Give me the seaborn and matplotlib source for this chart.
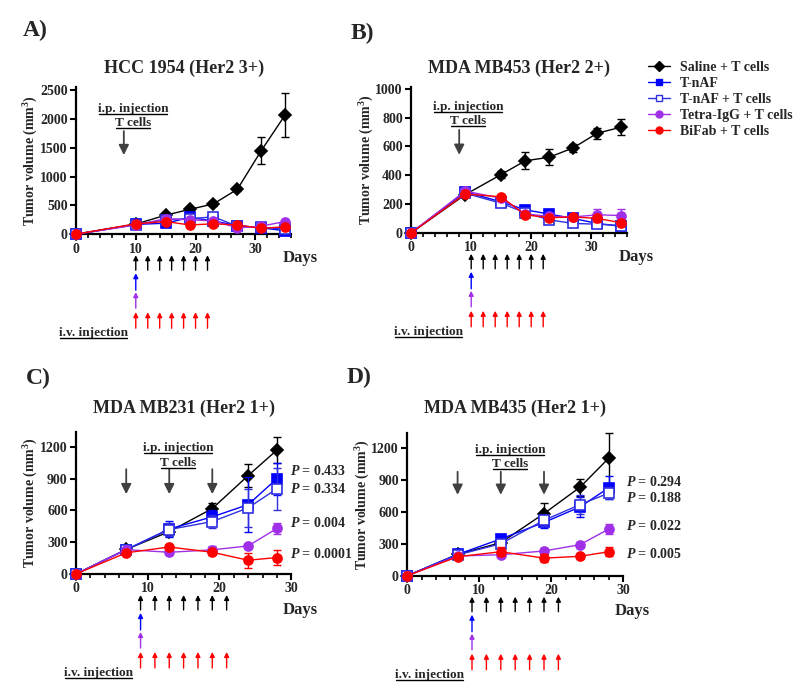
import numpy as np
import pandas as pd
import matplotlib
matplotlib.use('Agg')
import matplotlib.pyplot as plt
import matplotlib.transforms as mtransforms
from matplotlib.lines import Line2D
from matplotlib.ticker import MultipleLocator
import seaborn as sns

# groups / styles
groups = ['Saline + T cells', 'T-nAF', 'T-nAF + T cells', 'Tetra-IgG + T cells', 'BiFab + T cells']
colors = ['#000000', '#0000ff', '#3030e0', '#a030e8', '#ff0000']
markers = ['D', 's', 's', 'o', 'o']
filled = [True, True, False, True, True]

# Panel A: HCC 1954
a_days = [0, 10, 15, 19, 23, 27, 31, 35]
a_vals = [[0, 175, 330, 430, 525, 780, 1450, 2070],
          [0, 170, 190, 290, 230, 150, 110, 60],
          [0, 165, 250, 270, 300, 140, 120, 90],
          [0, 160, 270, 250, 230, 110, 140, 220],
          [0, 180, 220, 160, 180, 160, 100, 130]]
a_errs = [[0, 20, 40, 30, 30, 30, 240, 380],
          [0, 20, 30, 40, 40, 30, 20, 20],
          [0, 20, 30, 40, 40, 30, 20, 20],
          [0, 20, 30, 30, 30, 30, 20, 30],
          [0, 20, 30, 30, 30, 30, 20, 20]]

# Panel B: MDA MB453
b_days = [0, 9, 15, 19, 23, 27, 31, 35]
b_vals = [[0, 265, 405, 500, 525, 590, 692, 734],
          [0, 285, 215, 160, 130, 100, 65, 45],
          [0, 275, 205, 140, 90, 65, 60, 50],
          [0, 290, 240, 130, 115, 110, 125, 120],
          [0, 270, 250, 125, 105, 110, 100, 70]]
b_errs = [[0, 15, 27, 58, 55, 30, 37, 57],
          [0, 15, 20, 15, 15, 15, 25, 15],
          [0, 15, 20, 15, 15, 20, 20, 15],
          [0, 15, 20, 15, 15, 20, 40, 45],
          [0, 15, 15, 15, 20, 20, 25, 20]]

# Panel C: MDA MB231
c_days = [0, 7, 13, 19, 24, 28]
c_vals = [[0, 232, 400, 618, 930, 1170],
          [0, 230, 425, 540, 655, 900],
          [0, 230, 420, 495, 625, 805],
          [0, 230, 205, 228, 265, 430],
          [0, 200, 255, 205, 130, 155]]
c_errs = [[0, 15, 40, 50, 110, 120],
          [0, 15, 75, 60, 260, 150],
          [0, 15, 60, 65, 180, 200],
          [0, 15, 15, 40, 20, 50],
          [0, 15, 20, 25, 70, 70]]
c_pvals = ['0.433', '0.334', '0.004', '0.0001']

# Panel D: MDA MB435
d_days = [0, 7, 13, 19, 24, 28]
d_vals = [[0, 200, 310, 583, 830, 1103],
          [0, 200, 345, 500, 645, 825],
          [0, 195, 300, 520, 667, 775],
          [0, 185, 197, 232, 291, 438],
          [0, 178, 225, 165, 182, 225]]
d_errs = [[0, 15, 30, 100, 80, 240],
          [0, 15, 30, 50, 90, 110],
          [0, 15, 30, 50, 90, 60],
          [0, 15, 20, 25, 25, 50],
          [0, 15, 40, 35, 20, 40]]
d_pvals = ['0.294', '0.188', '0.022', '0.005']

# treatment schedules (days)
ab_ip_days = [8]
ab_iv_days = [10, 12, 14, 16, 18, 20, 22]
cd_ip_days = [7, 13, 19]
cd_iv_days = [9, 11, 13, 15, 17, 19, 21]

sns.set_theme(style='ticks')
plt.rcParams['font.family'] = ['Liberation Serif', 'DejaVu Serif']
plt.rcParams['font.weight'] = 'bold'
plt.rcParams['mathtext.fontset'] = 'custom'
plt.rcParams['mathtext.rm'] = 'Liberation Serif:bold'
plt.rcParams['mathtext.bf'] = 'Liberation Serif:bold'
plt.rcParams['mathtext.it'] = 'Liberation Serif:italic:bold'

fig = plt.figure(figsize=(8, 6.97), dpi=100)

panels = [
    dict(letter='A)', title='HCC 1954 (Her2 3+)', days=a_days, vals=a_vals, errs=a_errs,
         rect=[0.095, 0.664, 0.269, 0.211], ylim=2550, yticks=np.arange(0, 2501, 500), xmax=36,
         ip=ab_ip_days, iv=ab_iv_days, ip_text=(9.5, 2170, 1927), ip_arrow=(1788, 1372),
         pvals=None, letter_xy=(0.044, 0.957), title_pad=10, days_dy=24),
    dict(letter='B)', title='MDA MB453 (Her2 2+)', days=b_days, vals=b_vals, errs=b_errs,
         rect=[0.514, 0.666, 0.27, 0.2096], ylim=1015, yticks=np.arange(0, 1001, 200), xmax=36,
         ip=ab_ip_days, iv=ab_iv_days, ip_text=(9.5, 875, 778), ip_arrow=(715, 542),
         pvals=None, letter_xy=(0.453, 0.952), title_pad=10, days_dy=24),
    dict(letter='C)', title='MDA MB231 (Her2 1+)', days=c_days, vals=c_vals, errs=c_errs,
         rect=[0.095, 0.1765, 0.269, 0.2035], ylim=1340, yticks=np.arange(0, 1201, 300), xmax=30,
         ip=cd_ip_days, iv=cd_iv_days, ip_text=(14.2, 1188, 1046), ip_arrow=(990, 754),
         pvals=c_pvals, p_x=29.8, p_y=[971, 801, 481, 188],
         letter_xy=(0.048, 0.457), title_pad=14, days_dy=36),
    dict(letter='D)', title='MDA MB435 (Her2 1+)', days=d_days, vals=d_vals, errs=d_errs,
         rect=[0.509, 0.174, 0.27, 0.205], ylim=1340, yticks=np.arange(0, 1201, 300), xmax=30,
         ip=cd_ip_days, iv=cd_iv_days, ip_text=(14.3, 1181, 1050), ip_arrow=(975, 759),
         pvals=d_pvals, p_x=30.4, p_y=[881, 731, 469, 206],
         letter_xy=(0.449, 0.459), title_pad=14, days_dy=35),
]


def below(ax, dy, dx=0):
    return ax.get_xaxis_transform() + mtransforms.ScaledTranslation(dx / fig.dpi, -dy / fig.dpi, fig.dpi_scale_trans)


underlined = []

for p in panels:
    ax = fig.add_axes(p['rect'])
    for g in range(len(groups)):
        c = colors[g]
        sns.lineplot(x=p['days'], y=p['vals'][g], color=c, marker=markers[g],
                     markersize=6.5,
                     markeredgecolor=c, markeredgewidth=1.2,
                     markerfacecolor=c if filled[g] else 'white',
                     linewidth=1, errorbar=None, ax=ax, clip_on=False, zorder=3 + g)
        e = np.array(p['errs'][g])
        d = np.array(p['days'])
        v = np.array(p['vals'][g])
        m = e > 0
        ax.errorbar(d[m], v[m], yerr=e[m], fmt='none', ecolor=c, elinewidth=1,
                    capsize=3, capthick=1, clip_on=False, zorder=2 + g)

    ax.set_xlim(0, p['xmax'])
    ax.set_ylim(0, p['ylim'])
    ax.set_xticks([0, 10, 20, 30])
    ax.xaxis.set_minor_locator(MultipleLocator(2))
    ax.set_yticks(p['yticks'])
    ax.set_xlabel('')
    ax.set_ylabel('Tumor volume (mm$^{3}$)', fontsize=10, fontweight='bold')
    ax.yaxis.set_label_coords(-0.165, 0.5)
    ax.tick_params(axis='both', which='major', direction='out', length=4, width=1.5,
                   labelsize=10, pad=2, color='black')
    ax.tick_params(axis='x', which='minor', direction='out', length=3, width=1.2, color='black')
    for lab in ax.get_xticklabels() + ax.get_yticklabels():
        lab.set_fontweight('bold')
    sns.despine(ax=ax)
    for s in ['left', 'bottom']:
        ax.spines[s].set_linewidth(1.6)
        ax.spines[s].set_color('black')
    ax.set_title(p['title'], fontsize=13, fontweight='bold', pad=p['title_pad'])
    ax.grid(False)

    # i.p. injection annotation inside axes
    tx, ty1, ty2 = p['ip_text']
    t1 = ax.text(tx, ty1, 'i.p. injection', ha='center', va='center', fontsize=9.5, fontweight='bold')
    t2 = ax.text(tx, ty2, 'T cells', ha='center', va='center', fontsize=9.5, fontweight='bold')
    underlined += [t1, t2]
    for d0 in p['ip']:
        ax.annotate('', xy=(d0, p['ip_arrow'][1]), xytext=(d0, p['ip_arrow'][0]),
                    arrowprops=dict(arrowstyle='-|>', color='#404040', lw=1.3,
                                    mutation_scale=15, shrinkA=0, shrinkB=0))

    # dosing arrows below the x axis
    first = p['iv'][0]
    rows = [('#000000', p['iv'], 21, 36), ('#0000ff', [first], 39, 56),
            ('#a030e8', [first], 58, 74), ('#ff0000', p['iv'], 78, 94)]
    for col, ds, top, bot in rows:
        for d0 in ds:
            ax.annotate('', xy=(d0, 0), xycoords=below(ax, top),
                        xytext=(d0, 0), textcoords=below(ax, bot),
                        arrowprops=dict(arrowstyle='-|>', color=col, lw=1,
                                        mutation_scale=7, shrinkA=0, shrinkB=0),
                        annotation_clip=False)
    t3 = ax.text(first, 0, 'i.v. injection', transform=below(ax, 99, -8), ha='right', va='center',
                 fontsize=9.5, fontweight='bold')
    underlined.append(t3)
    ax.text(0.96, 0, 'Days', transform=ax.transAxes + mtransforms.ScaledTranslation(0, -p['days_dy'] / fig.dpi, fig.dpi_scale_trans),
            ha='left', va='center', fontsize=12, fontweight='bold')

    if p['pvals'] is not None:
        for lab, yy in zip(p['pvals'], p['p_y']):
            ax.text(p['p_x'], yy, '$P$ = ' + lab, ha='left', va='center', fontsize=10,
                    fontweight='bold', clip_on=False)

    fig.text(p['letter_xy'][0], p['letter_xy'][1], p['letter'], fontsize=17, fontweight='bold',
             ha='center', va='center')

# legend
handles = []
for g in range(len(groups)):
    handles.append(Line2D([0], [0], color=colors[g], marker=markers[g], markersize=5,
                          markeredgecolor=colors[g],
                          markerfacecolor=colors[g] if filled[g] else 'white', lw=1))
fig.legend(handles, groups, loc='upper left', bbox_to_anchor=(648 / 800, 1 - 61 / 697),
           frameon=False, handlelength=1.6, handletextpad=0.7, labelspacing=0.22,
           borderpad=0, borderaxespad=0, prop={'size': 10, 'weight': 'bold'})

# underline annotation texts
fig.canvas.draw()
renderer = fig.canvas.get_renderer()
for t in underlined:
    bb = t.get_window_extent(renderer)
    fig.add_artist(Line2D([bb.x0 + 1, bb.x1 - 1], [bb.y0 + 1, bb.y0 + 1],
                          transform=mtransforms.IdentityTransform(), color='black', lw=1))

fig.savefig('out.png', dpi=100)
